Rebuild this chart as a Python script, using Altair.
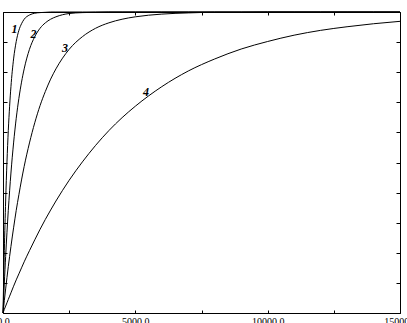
import altair as alt
import pandas as pd

xs = [0, 50, 100, 150, 200, 250, 300, 400, 500, 600, 700, 800, 1000, 1200, 1400,
      1600, 1800, 2000, 2500, 3000, 3500, 4000, 4500, 5000, 6000, 7000, 8000,
      9000, 10000, 11000, 12000, 13000, 14000, 15000]

curve1 = [0.0, 0.207, 0.372, 0.502, 0.606, 0.687, 0.752, 0.844, 0.902, 0.939, 0.961,
          0.976, 0.990, 0.996, 0.998, 0.999, 1.0, 1.0, 1.0, 1.0, 1.0, 1.0, 1.0, 1.0,
          1.0, 1.0, 1.0, 1.0, 1.0, 1.0, 1.0, 1.0, 1.0, 1.0]
curve2 = [0.0, 0.099, 0.188, 0.268, 0.341, 0.406, 0.465, 0.565, 0.647, 0.713, 0.767,
          0.811, 0.876, 0.918, 0.946, 0.964, 0.976, 0.984, 0.995, 0.998, 0.999, 1.0,
          1.0, 1.0, 1.0, 1.0, 1.0, 1.0, 1.0, 1.0, 1.0, 1.0, 1.0, 1.0]
curve3 = [0.0, 0.041, 0.080, 0.118, 0.154, 0.188, 0.221, 0.283, 0.341, 0.393, 0.442,
          0.487, 0.565, 0.632, 0.689, 0.736, 0.777, 0.811, 0.876, 0.918, 0.946, 0.964,
          0.976, 0.984, 0.993, 0.997, 0.999, 0.999, 1.0, 1.0, 1.0, 1.0, 1.0, 1.0]
curve4 = [0.0, 0.012, 0.023, 0.034, 0.045, 0.056, 0.067, 0.089, 0.110, 0.130, 0.150,
          0.170, 0.207, 0.243, 0.278, 0.311, 0.342, 0.372, 0.441, 0.502, 0.557, 0.606,
          0.649, 0.687, 0.752, 0.804, 0.844, 0.877, 0.902, 0.923, 0.939, 0.951, 0.961,
          0.969]

label_text = ["1", "2", "3", "4"]
label_x = [430, 1150, 2342, 5402]
label_y = [0.945, 0.927, 0.880, 0.734]

x_ticks = [0, 2500, 5000, 7500, 10000, 12500, 15000]
y_ticks = [0.0, 0.1, 0.2, 0.3, 0.4, 0.5, 0.6, 0.7, 0.8, 0.9, 1.0]

rows = []
for name, ys in zip(label_text, [curve1, curve2, curve3, curve4]):
    for x, y in zip(xs, ys):
        rows.append({"series": name, "x": x, "y": y})
df = pd.DataFrame(rows)
labels_df = pd.DataFrame({"t": label_text, "x": label_x, "y": label_y})

xscale = alt.Scale(domain=[0, 15000], nice=False, zero=False)
yscale = alt.Scale(domain=[0, 1], nice=False)

x_bottom = alt.Axis(orient="bottom", domain=False, grid=False, tickSize=3, offset=-3,
                    tickColor="black", values=x_ticks, title=None,
                    labelExpr="datum.value % 5000 == 0 ? format(datum.value, '.1f') : ''",
                    labelFlush=False, labelOverlap=False, labelBound=False,
                    labelPadding=3, labelFont="Liberation Serif", labelFontSize=10,
                    labelColor="black")
y_left = alt.Axis(orient="left", domain=False, grid=False, tickSize=4, offset=-4,
                  tickColor="black", values=y_ticks, title=None, labels=False)
x_top = alt.Axis(orient="top", domain=False, grid=False, tickSize=3, offset=-3,
                 tickColor="black", values=x_ticks, title=None, labels=False)
y_right = alt.Axis(orient="right", domain=False, grid=False, tickSize=4, offset=-4,
                   tickColor="black", values=y_ticks, title=None, labels=False)

lines = alt.Chart(df).mark_line(color="black", strokeWidth=1, interpolate="monotone").encode(
    x=alt.X("x:Q", scale=xscale, axis=x_bottom),
    y=alt.Y("y:Q", scale=yscale, axis=y_left),
    detail="series:N",
)

texts = alt.Chart(labels_df).mark_text(
    font="Liberation Serif", fontSize=12, fontStyle="italic", fontWeight="bold",
    color="black"
).encode(
    x=alt.X("x:Q", scale=xscale, axis=x_top),
    y=alt.Y("y:Q", scale=yscale, axis=y_right),
    text="t:N",
)

chart = alt.layer(lines, texts).properties(
    width=397, height=301,
    autosize="none",
    padding={"left": 3, "top": 12, "right": 7, "bottom": 10},
    background="white",
).configure_view(stroke="black", strokeWidth=1)

chart.save("out.html", embed_options={"renderer": "svg", "actions": False})
